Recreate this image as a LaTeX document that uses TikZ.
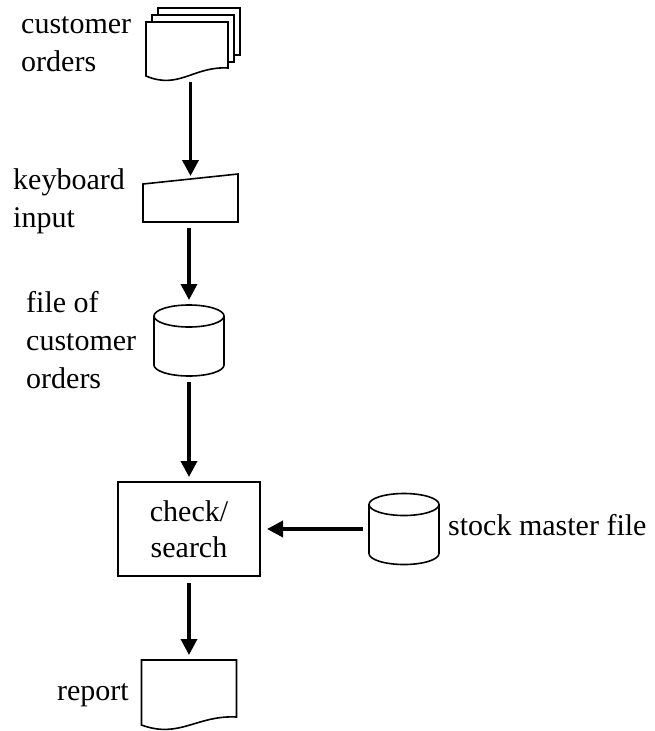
\documentclass[tikz,border=0pt]{standalone}
\usepackage{fontspec}
\setmainfont{Liberation Serif}
\usetikzlibrary{calc}
\usetikzlibrary{arrows.meta}
\newcommand{\docshape}[1]{\filldraw[shp] (#1.north west) -- (#1.north east) -- ($ (#1.south east) + (0,-8) $) .. controls ($ (#1.south west)!0.58!(#1.south east) + (0,-10) $) and ($ (#1.south west)!0.4!(#1.south east) + (0,14) $) .. (#1.south west) -- cycle;}
\newcommand{\docstack}[1]{\filldraw[shp] ($ (#1.north west) + (12,-14) $) rectangle ($ (#1.north east) + (12,33) $); \filldraw[shp] ($ (#1.north west) + (6,-7) $) rectangle ($ (#1.north east) + (6,40) $); \docshape{#1}}
\newcommand{\manualin}[1]{\filldraw[shp] (#1.south west) -- ($ (#1.north west) + (0,10) $) -- (#1.north east) -- (#1.south east) -- cycle;}
\newcommand{\filecyl}[1]{\filldraw[shp] ($ (#1.north west) + (0,11) $) -- ($ (#1.south west) + (0,-11) $) arc(180:360:35pt and 11pt) -- ($ (#1.north east) + (0,11) $); \filldraw[shp] ($ (#1.north) + (0,11) $) ellipse (35pt and 11pt);}
\tikzset{
  shp/.style={line width=1.6pt, fill=white},
  blank/.style={inner sep=0pt, outer sep=0pt},
  lbl/.style={font=\fontsize{30}{38}\selectfont, align=left, inner sep=0pt},
  flow/.style={line width=3.6pt, -{Triangle[length=16pt,width=16pt]}, shorten <=6pt, shorten >=5pt}
}

\begin{document}
\begin{tikzpicture}[x=1pt, y=-1pt]
    \useasboundingbox (0,0) rectangle (654,731);
    % shapes
    \node[blank, minimum width=82pt, minimum height=54pt] (orders) at (187,49) {};
    \node[blank, minimum width=95pt, minimum height=48pt] (keyin) at (190.5,198) {};
    \node[blank, minimum width=70pt, minimum height=71pt] (ordfile) at (189,340.5) {};
    \node[blank, shp, draw, minimum width=142pt, minimum height=94pt, font=\fontsize{30}{36}\selectfont, align=center] (check) at (189,529) {check/\\search};
    \node[blank, minimum width=70pt, minimum height=71pt] (stock) at (404,529) {};
    \node[blank, minimum width=95pt, minimum height=65pt] (report) at (189,692.5) {};
    \docstack{orders}
    \manualin{keyin}
    \filecyl{ordfile}
    \filecyl{stock}
    \docshape{report}
    % labels
    \node[lbl, anchor=base west] (orderslbl) at (21,71) {customer\\orders};
    \node[lbl, anchor=base west] (keyinlbl) at (13,227) {keyboard\\input};
    \node[lbl, anchor=base west] (ordfilelbl) at (26,388) {file of\\customer\\orders};
    \node[lbl, anchor=base west] (stocklbl) at (448,535) {stock master file};
    \node[lbl, anchor=base east] (reportlbl) at (129,700) {report};
    % arrows
    \draw[flow, shorten >=3pt] (orders.south -| keyin.north) -- ($ (keyin.north) + (0,5) $);
    \draw[flow] (keyin.south -| ordfile.north) -- (ordfile.north);
    \draw[flow] (ordfile.south) -- (check.north);
    \draw[flow, shorten >=7pt] (stock.west) -- (check.east);
    \draw[flow, shorten <=7pt] (check.south) -- (report.north);
\end{tikzpicture}
\end{document}
